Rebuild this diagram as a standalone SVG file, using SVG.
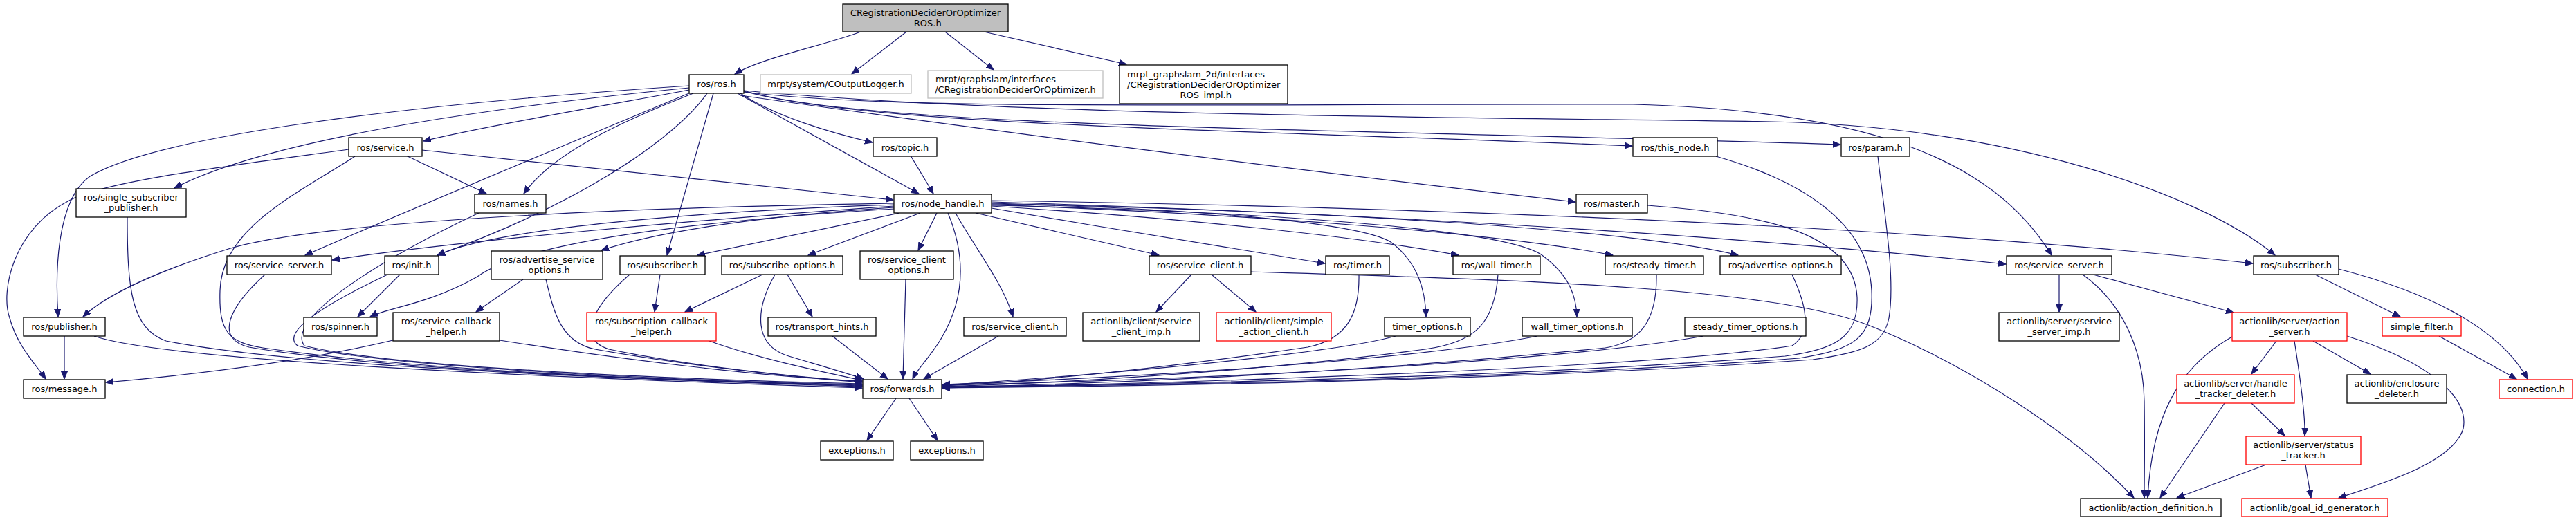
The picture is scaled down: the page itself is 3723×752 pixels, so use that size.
<svg xmlns="http://www.w3.org/2000/svg" width="3723" height="752" viewBox="0 0 3723 752">
<defs>
<marker id="a" markerUnits="userSpaceOnUse" markerWidth="12" markerHeight="10" refX="11" refY="4.5" orient="auto"><path d="M0,0 L11,4.5 L0,9 z" fill="#191970" stroke="#191970" stroke-width="1"/></marker>
</defs>
<style>
rect{fill:#fff;stroke:#000;stroke-width:1.3}
rect.r{stroke:#ff0000}
rect.g{stroke:#bfbfbf}
rect.top{fill:#bfbfbf}
text{font-family:"DejaVu Sans","Liberation Sans",sans-serif;font-size:13px;fill:#000;text-anchor:middle}
text.l{text-anchor:start}
#edges path{fill:none;stroke:#191970;stroke-width:1.2;marker-end:url(#a)}
</style>
<rect x="0" y="0" width="3723" height="752" style="fill:#fff;stroke:none"/>
<g id="edges">
<path d="M1244,46 C1190,66 1100,84 1062,107"/>
<path d="M1310,46 L1231,107"/>
<path d="M1366,46 L1436,101"/>
<path d="M1422,46 L1628,93"/>
<path d="M996,130 C930,143 720,178 612,204"/>
<path d="M996,124 C600,150 230,195 130,255 C80,290 80,400 84,458"/>
<path d="M504,216 C330,240 150,262 100,290 C20,330 0,420 14,460 C25,500 50,525 66,548"/>
<path d="M996,127 C760,150 400,195 252,272"/>
<path d="M998,134 C840,200 600,300 441,369"/>
<path d="M1002,135 C900,175 800,220 757,280"/>
<path d="M1022,135 C980,195 850,290 632,369"/>
<path d="M1031,135 L964,369"/>
<path d="M1066,135 L1328,280"/>
<path d="M1070,135 C1120,168 1200,192 1261,206"/>
<path d="M1075,132 C1250,180 1700,185 2359,211"/>
<path d="M1075,131 C1250,185 1900,185 2660,209"/>
<path d="M1070,138 C1400,185 1900,250 2277,292"/>
<path d="M1074,133 C1300,160 1700,150 2360,151 C2700,160 2880,230 2965,369"/>
<path d="M1075,131 C1500,170 2200,170 2560,176 C2900,182 3180,280 3288,369"/>
<path d="M1316,225 L1349,280"/>
<path d="M610,217 L1291,289"/>
<path d="M587,225 L703,280"/>
<path d="M184,314 C184,420 190,475 240,493 C420,530 900,548 1246,559"/>
<path d="M136,486 C220,515 600,540 1246,561"/>
<path d="M383,397 C330,445 310,490 360,502 C550,535 950,550 1246,558"/>
<path d="M513,226 C430,280 320,330 318,420 C316,480 330,495 380,503 C600,535 950,550 1246,557"/>
<path d="M560,397 C470,440 405,480 430,500 C550,530 950,550 1246,556"/>
<path d="M694,307 C560,370 410,460 440,500 C560,530 950,548 1246,555"/>
<path d="M789,404 C800,450 810,495 860,505 C1000,530 1150,545 1246,553"/>
<path d="M910,397 C860,440 830,490 880,505 C1000,530 1150,545 1246,552"/>
<path d="M722,492 C900,520 1100,545 1246,551"/>
<path d="M1025,493 C1100,520 1200,540 1246,550"/>
<path d="M1120,397 C1090,450 1090,500 1140,515 C1190,530 1225,540 1248,548"/>
<path d="M1203,486 L1283,548"/>
<path d="M1309,404 L1305,548"/>
<path d="M1370,308 C1400,380 1390,440 1360,490 C1345,515 1325,535 1319,548"/>
<path d="M1443,486 L1335,548"/>
<path d="M1964,397 C1965,450 1950,490 1890,502 C1700,530 1500,552 1362,558"/>
<path d="M2017,486 C1950,505 1700,535 1362,557"/>
<path d="M2165,397 C2160,470 2130,495 2060,505 C1800,540 1500,555 1362,559"/>
<path d="M2222,486 C2100,510 1800,540 1362,556"/>
<path d="M2394,397 C2395,465 2370,495 2320,503 C1900,545 1550,556 1362,560"/>
<path d="M2462,486 C2300,515 1900,545 1362,557"/>
<path d="M2590,397 C2610,440 2620,480 2590,500 C2400,530 1800,552 1362,561"/>
<path d="M2381,297 C2560,310 2680,340 2684,430 C2686,490 2650,505 2580,515 C2200,545 1700,556 1362,559"/>
<path d="M2480,226 C2600,260 2700,320 2705,420 C2708,490 2680,505 2600,518 C2200,548 1700,557 1362,560"/>
<path d="M2714,226 C2722,300 2740,400 2730,460 C2722,500 2690,510 2620,520 C2200,550 1700,558 1362,561"/>
<path d="M93,486 L93,548"/>
<path d="M568,492 C450,520 300,540 153,553"/>
<path d="M756,404 L688,451"/>
<path d="M954,397 L946,451"/>
<path d="M1102,397 L990,451"/>
<path d="M1138,397 L1174,458"/>
<path d="M578,397 L517,458"/>
<path d="M1300,308 L1008,369"/>
<path d="M1292,300 C1100,312 950,335 869,362"/>
<path d="M1292,296 C1000,306 720,330 632,369"/>
<path d="M1292,298 C1000,318 650,350 480,376"/>
<path d="M1292,302 C1000,320 760,350 690,400 C620,440 560,445 535,458"/>
<path d="M1292,294 C900,300 460,320 330,360 C250,385 160,420 120,458"/>
<path d="M1330,308 L1168,369"/>
<path d="M1354,308 L1327,362"/>
<path d="M1381,308 C1410,360 1450,410 1464,458"/>
<path d="M1410,308 L1675,369"/>
<path d="M1433,301 C1600,330 1800,362 1915,381"/>
<path d="M1433,298 C1700,315 1950,340 2108,369"/>
<path d="M1433,296 C1800,310 2150,335 2331,369"/>
<path d="M1433,294 C1900,305 2350,330 2512,369"/>
<path d="M1433,295 C1700,300 1960,320 2010,350 C2050,380 2060,420 2061,458"/>
<path d="M1433,297 C1800,305 2180,330 2230,370 C2270,400 2278,430 2279,458"/>
<path d="M1433,292 C2000,310 2500,340 2899,382"/>
<path d="M1433,290 C2100,300 2800,330 3256,381"/>
<path d="M1722,397 L1671,451"/>
<path d="M1751,397 L1815,451"/>
<path d="M1808,393 C2200,405 2560,415 2700,470 C2850,530 3000,630 3084,720"/>
<path d="M2976,397 L2976,451"/>
<path d="M3025,397 L3228,452"/>
<path d="M3010,397 C3070,440 3098,510 3099,580 C3100,650 3099,690 3099,720"/>
<path d="M3346,397 L3469,458"/>
<path d="M3380,389 C3500,420 3610,470 3653,548"/>
<path d="M3525,486 L3637,548"/>
<path d="M3290,493 L3254,541"/>
<path d="M3316,493 C3325,550 3332,600 3331,630"/>
<path d="M3343,493 L3426,541"/>
<path d="M3226,487 C3150,530 3110,600 3104,720"/>
<path d="M3392,486 C3500,520 3570,570 3560,620 C3545,670 3440,700 3380,720"/>
<path d="M3254,583 L3302,630"/>
<path d="M3215,583 L3122,720"/>
<path d="M3275,672 L3146,720"/>
<path d="M3332,672 L3340,720"/>
<path d="M1295,576 L1253,637"/>
<path d="M1314,576 L1355,637"/>
</g>
<g id="n0"><rect class="top" x="1218" y="6" width="239" height="40"/><text x="1337.5" y="22.5">CRegistrationDeciderOrOptimizer</text><text x="1337.5" y="37.5">_ROS.h</text></g>
<g id="n1"><rect x="996" y="108" width="79" height="27"/><text x="1035.5" y="126">ros/ros.h</text></g>
<g id="n2"><rect class="g" x="1099" y="108" width="218" height="27"/><text x="1208" y="126">mrpt/system/COutputLogger.h</text></g>
<g id="n3"><rect class="g" x="1341" y="102" width="253" height="40"/><text class="l" x="1352" y="118.5">mrpt/graphslam/interfaces</text><text x="1467.5" y="133.5">/CRegistrationDeciderOrOptimizer.h</text></g>
<g id="n4"><rect x="1618" y="94" width="243" height="56"/><text class="l" x="1629" y="111.5">mrpt_graphslam_2d/interfaces</text><text class="l" x="1629" y="126.5">/CRegistrationDeciderOrOptimizer</text><text x="1739.5" y="141.5">_ROS_impl.h</text></g>
<g id="n5"><rect x="504" y="199" width="106" height="27"/><text x="557" y="217.5">ros/service.h</text></g>
<g id="n6"><rect x="1262" y="199" width="92" height="27"/><text x="1308" y="217.5">ros/topic.h</text></g>
<g id="n7"><rect x="2360" y="199" width="122" height="27"/><text x="2421" y="217.5">ros/this_node.h</text></g>
<g id="n8"><rect x="2661" y="199" width="99" height="27"/><text x="2710.5" y="217.5">ros/param.h</text></g>
<g id="n9"><rect x="110" y="273" width="159" height="41"/><text x="189.5" y="290">ros/single_subscriber</text><text x="189.5" y="305">_publisher.h</text></g>
<g id="n10"><rect x="686" y="281" width="103" height="27"/><text x="737.5" y="299">ros/names.h</text></g>
<g id="n11"><rect x="1292" y="281" width="141" height="27"/><text x="1362.5" y="299">ros/node_handle.h</text></g>
<g id="n12"><rect x="2278" y="281" width="103" height="27"/><text x="2329.5" y="299">ros/master.h</text></g>
<g id="n13"><rect x="328" y="370" width="151" height="27"/><text x="403.5" y="388">ros/service_server.h</text></g>
<g id="n14"><rect x="556" y="370" width="78" height="27"/><text x="595" y="388">ros/init.h</text></g>
<g id="n15"><rect x="710" y="363" width="161" height="41"/><text x="790.5" y="380">ros/advertise_service</text><text x="790.5" y="395">_options.h</text></g>
<g id="n16"><rect x="896" y="370" width="123" height="27"/><text x="957.5" y="388">ros/subscriber.h</text></g>
<g id="n17"><rect x="1043" y="370" width="175" height="27"/><text x="1130.5" y="388">ros/subscribe_options.h</text></g>
<g id="n18"><rect x="1243" y="363" width="135" height="41"/><text x="1310.5" y="380">ros/service_client</text><text x="1310.5" y="395">_options.h</text></g>
<g id="n19"><rect x="1661" y="370" width="147" height="27"/><text x="1734.5" y="388">ros/service_client.h</text></g>
<g id="n20"><rect x="1916" y="370" width="92" height="27"/><text x="1962" y="388">ros/timer.h</text></g>
<g id="n21"><rect x="2100" y="370" width="126" height="27"/><text x="2163" y="388">ros/wall_timer.h</text></g>
<g id="n22"><rect x="2320" y="370" width="142" height="27"/><text x="2391" y="388">ros/steady_timer.h</text></g>
<g id="n23"><rect x="2486" y="370" width="175" height="27"/><text x="2573.5" y="388">ros/advertise_options.h</text></g>
<g id="n24"><rect x="2900" y="370" width="152" height="27"/><text x="2976" y="388">ros/service_server.h</text></g>
<g id="n25"><rect x="3257" y="370" width="123" height="27"/><text x="3318.5" y="388">ros/subscriber.h</text></g>
<g id="n26"><rect x="34" y="459" width="118" height="27"/><text x="93" y="477">ros/publisher.h</text></g>
<g id="n27"><rect x="439" y="459" width="106" height="27"/><text x="492" y="477">ros/spinner.h</text></g>
<g id="n28"><rect x="568" y="452" width="154" height="41"/><text x="645" y="469">ros/service_callback</text><text x="645" y="484">_helper.h</text></g>
<g id="n29"><rect class="r" x="848" y="452" width="187" height="41"/><text x="941.5" y="469">ros/subscription_callback</text><text x="941.5" y="484">_helper.h</text></g>
<g id="n30"><rect x="1110" y="459" width="156" height="27"/><text x="1188" y="477">ros/transport_hints.h</text></g>
<g id="n31"><rect x="1393" y="459" width="148" height="27"/><text x="1467" y="477">ros/service_client.h</text></g>
<g id="n32"><rect x="1565" y="452" width="169" height="41"/><text x="1649.5" y="469">actionlib/client/service</text><text x="1649.5" y="484">_client_imp.h</text></g>
<g id="n33"><rect class="r" x="1758" y="452" width="166" height="41"/><text x="1841" y="469">actionlib/client/simple</text><text x="1841" y="484">_action_client.h</text></g>
<g id="n34"><rect x="2001" y="459" width="124" height="27"/><text x="2063" y="477">timer_options.h</text></g>
<g id="n35"><rect x="2200" y="459" width="159" height="27"/><text x="2279.5" y="477">wall_timer_options.h</text></g>
<g id="n36"><rect x="2435" y="459" width="175" height="27"/><text x="2522.5" y="477">steady_timer_options.h</text></g>
<g id="n37"><rect x="2889" y="452" width="174" height="41"/><text x="2976" y="469">actionlib/server/service</text><text x="2976" y="484">_server_imp.h</text></g>
<g id="n38"><rect class="r" x="3226" y="452" width="166" height="41"/><text x="3309" y="469">actionlib/server/action</text><text x="3309" y="484">_server.h</text></g>
<g id="n39"><rect class="r" x="3443" y="459" width="114" height="27"/><text x="3500" y="477">simple_filter.h</text></g>
<g id="n40"><rect x="34" y="549" width="118" height="27"/><text x="93" y="567">ros/message.h</text></g>
<g id="n41"><rect x="1247" y="549" width="114" height="27"/><text x="1304" y="567">ros/forwards.h</text></g>
<g id="n42"><rect class="r" x="3146" y="542" width="170" height="41"/><text x="3231" y="559">actionlib/server/handle</text><text x="3231" y="574">_tracker_deleter.h</text></g>
<g id="n43"><rect x="3392" y="542" width="144" height="41"/><text x="3464" y="559">actionlib/enclosure</text><text x="3464" y="574">_deleter.h</text></g>
<g id="n44"><rect class="r" x="3612" y="549" width="106" height="27"/><text x="3665" y="567">connection.h</text></g>
<g id="n45"><rect x="1186" y="638" width="105" height="27"/><text x="1238.5" y="656">exceptions.h</text></g>
<g id="n46"><rect x="1316" y="638" width="105" height="27"/><text x="1368.5" y="656">exceptions.h</text></g>
<g id="n47"><rect class="r" x="3246" y="631" width="166" height="41"/><text x="3329" y="648">actionlib/server/status</text><text x="3329" y="663">_tracker.h</text></g>
<g id="n48"><rect x="3007" y="721" width="203" height="26"/><text x="3108.5" y="738.5">actionlib/action_definition.h</text></g>
<g id="n49"><rect class="r" x="3240" y="721" width="211" height="26"/><text x="3345.5" y="738.5">actionlib/goal_id_generator.h</text></g>
</svg>
